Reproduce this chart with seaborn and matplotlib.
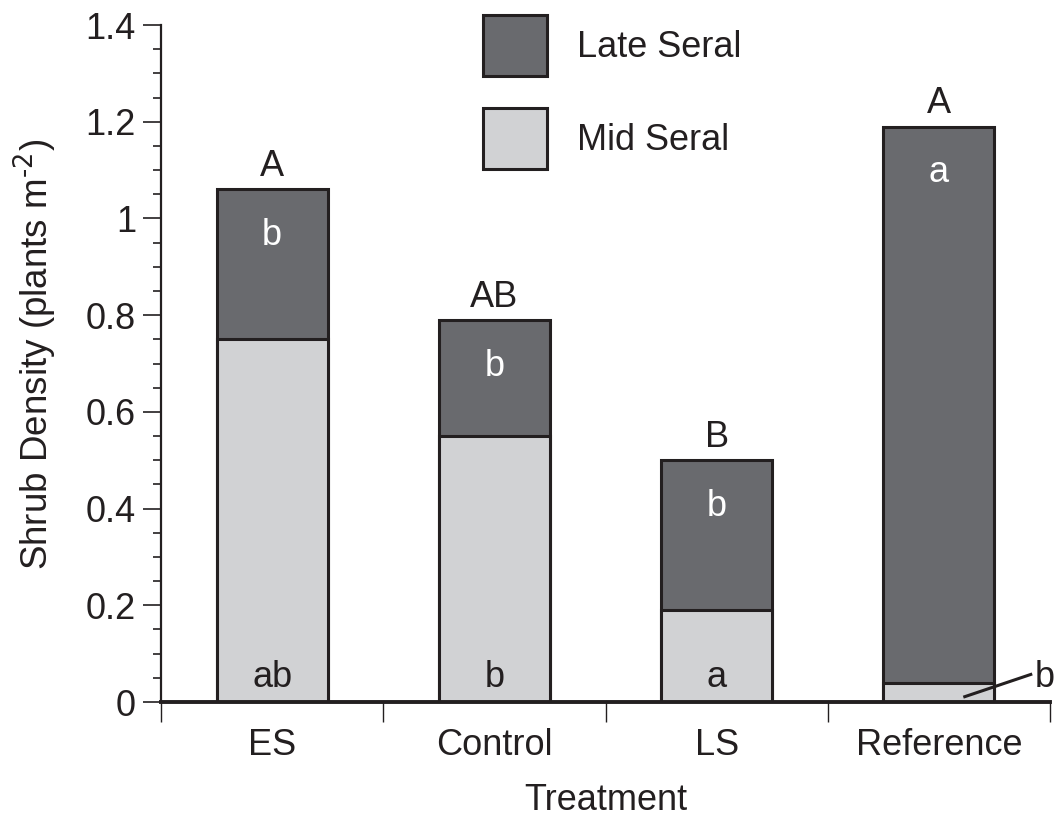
import matplotlib
matplotlib.use("Agg")
import matplotlib.pyplot as plt
from matplotlib.patches import Patch
from matplotlib.ticker import MultipleLocator, FixedLocator, FixedFormatter, NullFormatter
import seaborn as sns
import pandas as pd

# ---- data ----
treatments = ["ES", "Control", "LS", "Reference"]
mid_seral = [0.75, 0.55, 0.19, 0.04]
late_seral = [0.31, 0.24, 0.31, 1.15]
total_letters = ["A", "AB", "B", "A"]
late_letters = ["b", "b", "b", "a"]
mid_letters = ["ab", "b", "a", "b"]
ytick_values = [0, 0.2, 0.4, 0.6, 0.8, 1.0, 1.2, 1.4]
ytick_labels = ["0", "0.2", "0.4", "0.6", "0.8", "1", "1.2", "1.4"]
legend_labels = ["Late Seral", "Mid Seral"]

dark = "#696a6e"
light = "#d1d2d4"
ink = "#231f20"

sns.set_theme(style="ticks")
plt.rcParams["font.family"] = ["Liberation Sans", "DejaVu Sans"]
plt.rcParams["mathtext.default"] = "regular"
FS = 26

totals = [m + l for m, l in zip(mid_seral, late_seral)]
df = pd.DataFrame({"Treatment": treatments, "mid": mid_seral, "total": totals})

fig = plt.figure(figsize=(10.59, 8.17), dpi=100)
ax = fig.add_axes([161 / 1059, 1 - 702 / 817, (1050 - 161) / 1059, (702 - 25) / 817])

sns.barplot(data=df, x="Treatment", y="total", color=dark, saturation=1,
            edgecolor=ink, linewidth=2.2, width=0.5, ax=ax, order=treatments)
sns.barplot(data=df, x="Treatment", y="mid", color=light, saturation=1,
            edgecolor=ink, linewidth=2.2, width=0.5, ax=ax, order=treatments)

ax.set_xlim(-0.5, len(treatments) - 0.5)
ax.set_ylim(0, 1.4)

# spines
sns.despine(ax=ax)
ax.spines["left"].set_linewidth(1.6)
ax.spines["left"].set_color(ink)
ax.spines["bottom"].set_linewidth(2.8)
ax.spines["bottom"].set_color(ink)

# y ticks
ax.yaxis.set_major_locator(FixedLocator(ytick_values))
ax.yaxis.set_major_formatter(FixedFormatter(ytick_labels))
ax.yaxis.set_minor_locator(MultipleLocator(0.05))
ax.tick_params(axis="y", which="major", length=13, width=1.2, color=ink,
               labelsize=FS, pad=5, labelcolor=ink)
ax.tick_params(axis="y", which="minor", length=6, width=1.2, color=ink)

# x ticks: major at boundaries (no labels), minor at centers (labels)
ax.xaxis.set_major_locator(FixedLocator([i - 0.5 for i in range(len(treatments) + 1)]))
ax.xaxis.set_major_formatter(NullFormatter())
ax.xaxis.set_minor_locator(FixedLocator(list(range(len(treatments)))))
ax.xaxis.set_minor_formatter(FixedFormatter(treatments))
ax.tick_params(axis="x", which="major", length=14.5, width=1.0, color=ink)
ax.tick_params(axis="x", which="minor", length=0, labelsize=FS, pad=19, labelcolor=ink)

ax.set_xlabel("Treatment", fontsize=FS, color=ink, labelpad=14)
ax.set_ylabel(r"Shrub Density (plants m$^{\text{-2}}$)", fontsize=FS + 0.5, color=ink)
ax.yaxis.set_label_coords(-0.1163, 0.513)

# annotations
for i, t in enumerate(treatments):
    ax.text(i, totals[i] + 0.027, total_letters[i], ha="center", va="baseline",
            fontsize=FS, color=ink)
    ax.text(i, totals[i] - 0.115, late_letters[i], ha="center", va="baseline",
            fontsize=FS, color="white")
    if mid_seral[i] > 0.1:
        ax.text(i, 0.03, mid_letters[i], ha="center", va="baseline",
                fontsize=FS, color=ink)
    else:
        ax.plot([i + 0.11, i + 0.42], [0.01, 0.058], color=ink, lw=2.2,
                solid_capstyle="butt", clip_on=False)
        ax.text(i + 0.475, 0.03, mid_letters[i], ha="center", va="baseline",
                fontsize=FS, color=ink, clip_on=False)

handles = [Patch(facecolor=dark, edgecolor=ink, linewidth=2.2),
           Patch(facecolor=light, edgecolor=ink, linewidth=2.2)]
ax.legend(handles, legend_labels, loc="upper left",
          bbox_to_anchor=(483 / 1059, 1 - 15 / 817), bbox_transform=fig.transFigure,
          frameon=False, fontsize=FS, handlelength=1.77, handleheight=2.23,
          handletextpad=0.83, labelspacing=0.88, borderpad=0, borderaxespad=0,
          labelcolor=ink)

fig.savefig("out.png", dpi=100)
